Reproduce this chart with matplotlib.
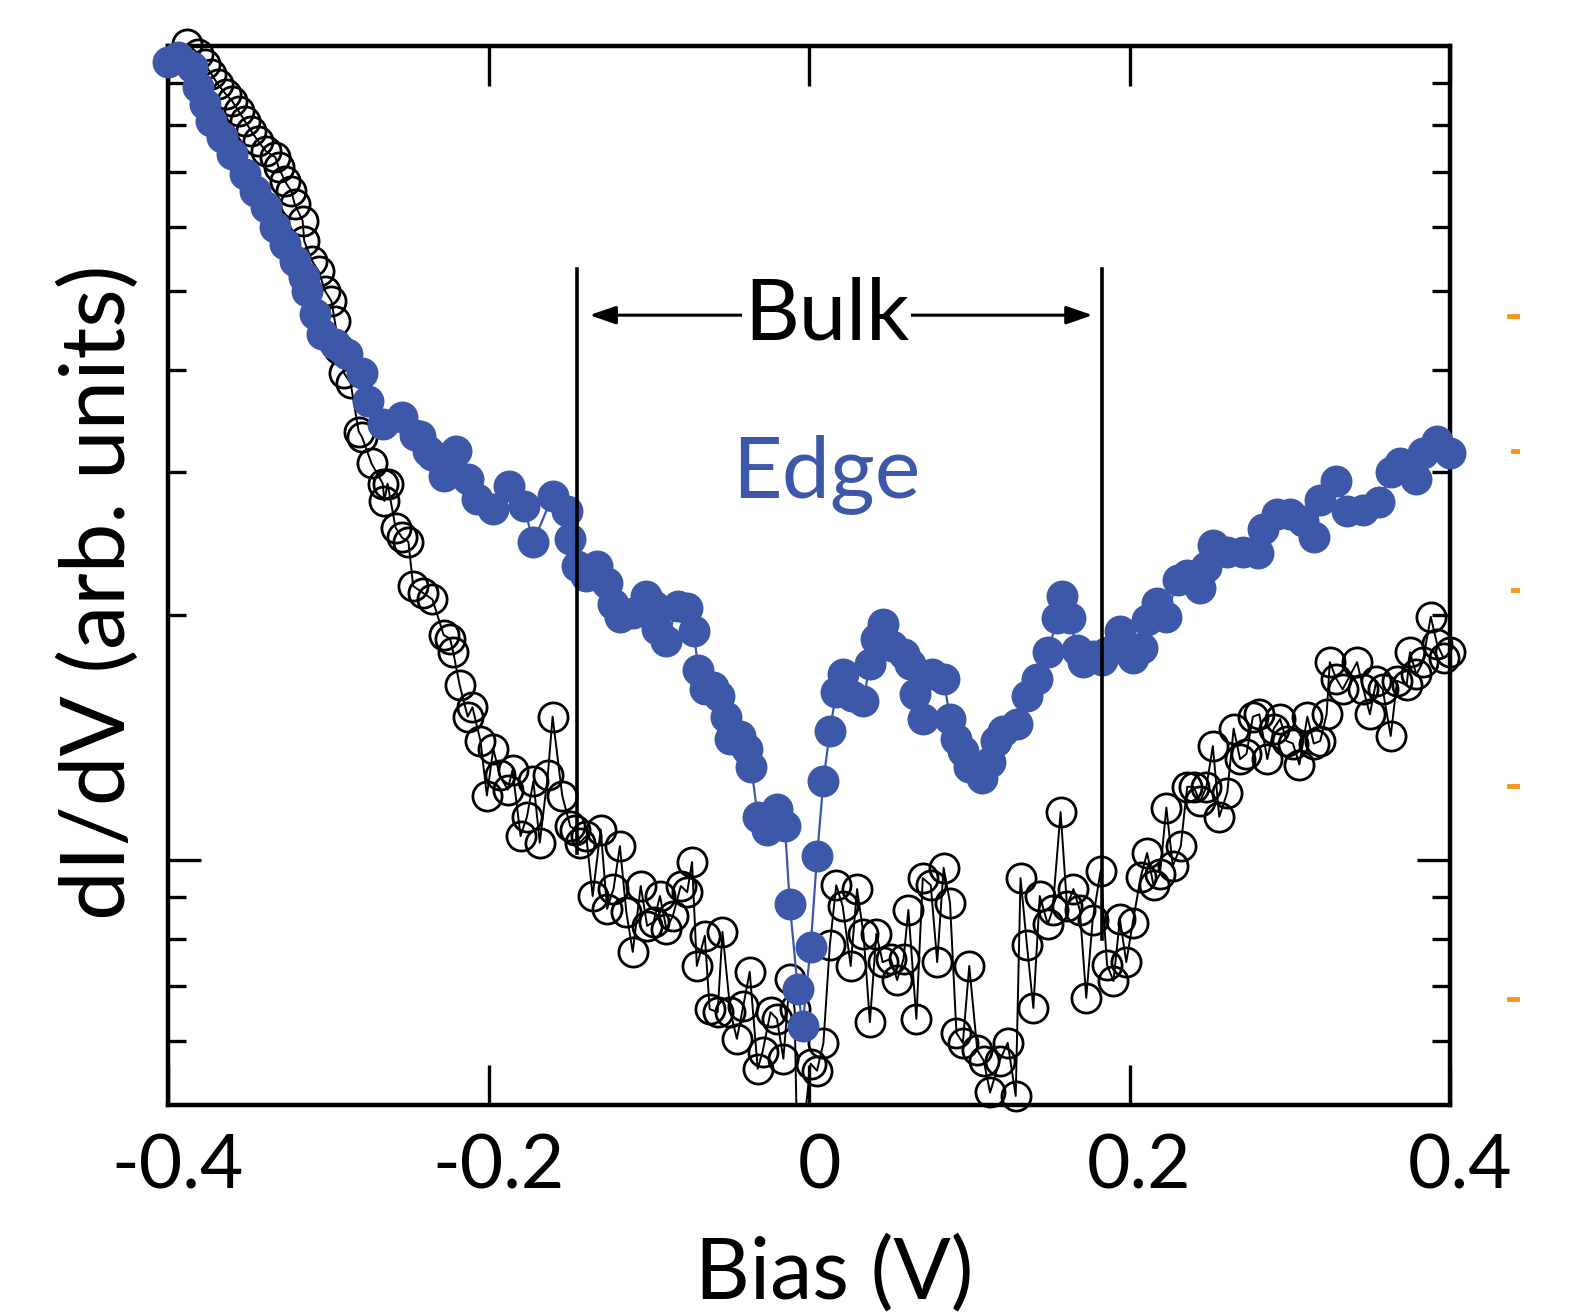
import matplotlib
matplotlib.use("Agg")
import matplotlib.pyplot as plt
import matplotlib.transforms as mtransforms
from matplotlib.ticker import FixedLocator, NullFormatter, FixedFormatter
from matplotlib.lines import Line2D
from matplotlib.patches import Rectangle

plt.rcParams['font.family'] = ['Lato', 'DejaVu Sans']

# ---------------- data ----------------
edge_bias = [-0.400, -0.394, -0.385, -0.381, -0.377, -0.373, -0.366, -0.360, -0.352, -0.346,
             -0.339, -0.333, -0.327, -0.321, -0.315, -0.313, -0.308, -0.304, -0.296, -0.288,
             -0.279, -0.275, -0.266, -0.254, -0.246, -0.243, -0.238, -0.235, -0.228, -0.220,
             -0.213, -0.207, -0.197, -0.187, -0.178, -0.172, -0.160, -0.151, -0.149, -0.145,
             -0.139, -0.132, -0.126, -0.122, -0.118, -0.110, -0.102, -0.097, -0.095, -0.089,
             -0.082, -0.076, -0.072, -0.069, -0.065, -0.060, -0.056, -0.052, -0.049, -0.043,
             -0.039, -0.036, -0.032, -0.026, -0.020, -0.015, -0.012, -0.007, -0.004, 0.001,
             0.005, 0.009, 0.013, 0.017, 0.021, 0.027, 0.034, 0.038, 0.042, 0.046,
             0.052, 0.059, 0.063, 0.066, 0.071, 0.077, 0.084, 0.088, 0.092, 0.096,
             0.100, 0.108, 0.113, 0.117, 0.121, 0.130, 0.136, 0.142, 0.149, 0.155,
             0.158, 0.163, 0.167, 0.171, 0.177, 0.183, 0.186, 0.194, 0.202, 0.208,
             0.211, 0.217, 0.223, 0.230, 0.236, 0.244, 0.248, 0.252, 0.261, 0.271,
             0.280, 0.283, 0.292, 0.300, 0.308, 0.315, 0.319, 0.329, 0.336, 0.346,
             0.356, 0.363, 0.369, 0.379, 0.383, 0.392, 0.400]
edge_didv = [9.56, 9.70, 9.42, 8.90, 8.49, 8.09, 7.73, 7.36, 6.96, 6.63,
             6.35, 5.99, 5.71, 5.44, 5.20, 5.00, 4.68, 4.43, 4.30, 4.18,
             3.96, 3.66, 3.43, 3.50, 3.33, 3.32, 3.18, 3.14, 2.96, 3.18,
             2.94, 2.78, 2.70, 2.88, 2.72, 2.46, 2.80, 2.68, 2.48, 2.30,
             2.23, 2.30, 2.19, 2.06, 1.99, 2.01, 2.11, 2.05, 1.92, 1.86,
             2.05, 2.04, 1.91, 1.71, 1.62, 1.63, 1.59, 1.50, 1.41, 1.42,
             1.37, 1.30, 1.13, 1.09, 1.155, 1.10, 0.883, 0.694, 0.625, 0.781,
             1.01, 1.25, 1.44, 1.61, 1.69, 1.59, 1.57, 1.74, 1.87, 1.95,
             1.83, 1.79, 1.74, 1.60, 1.49, 1.69, 1.67, 1.49, 1.41, 1.36,
             1.30, 1.26, 1.32, 1.40, 1.44, 1.47, 1.59, 1.67, 1.80, 1.98,
             2.11, 1.98, 1.81, 1.75, 1.78, 1.76, 1.80, 1.91, 1.77, 1.82,
             1.97, 2.07, 1.99, 2.21, 2.24, 2.16, 2.29, 2.44, 2.39, 2.39,
             2.38, 2.55, 2.66, 2.66, 2.61, 2.49, 2.77, 2.92, 2.68, 2.69,
             2.75, 3.00, 3.07, 2.94, 3.16, 3.27, 3.16]

bulk_bias = [-0.388, -0.381, -0.377, -0.373, -0.369, -0.364, -0.360, -0.356, -0.352, -0.348,
             -0.344, -0.339, -0.333, -0.331, -0.327, -0.323, -0.321, -0.316, -0.315, -0.310,
             -0.306, -0.302, -0.298, -0.296, -0.293, -0.290, -0.286, -0.281, -0.279, -0.273,
             -0.266, -0.265, -0.263, -0.258, -0.254, -0.250, -0.247, -0.241, -0.235, -0.228,
             -0.224, -0.222, -0.218, -0.213, -0.210, -0.205, -0.201, -0.197, -0.193, -0.188,
             -0.185, -0.180, -0.176, -0.172, -0.168, -0.163, -0.160, -0.154, -0.149, -0.146,
             -0.143, -0.139, -0.135, -0.130, -0.126, -0.122, -0.118, -0.114, -0.110, -0.105,
             -0.101, -0.097, -0.093, -0.089, -0.085, -0.080, -0.076, -0.073, -0.070, -0.065,
             -0.062, -0.057, -0.054, -0.049, -0.045, -0.041, -0.037, -0.032, -0.029, -0.024,
             -0.020, -0.016, -0.012, -0.009, -0.007, 0.001, 0.005, 0.009, 0.013, 0.017,
             0.021, 0.026, 0.030, 0.034, 0.038, 0.042, 0.046, 0.051, 0.055, 0.059,
             0.062, 0.067, 0.071, 0.076, 0.080, 0.084, 0.088, 0.092, 0.096, 0.100,
             0.105, 0.109, 0.113, 0.119, 0.124, 0.129, 0.132, 0.136, 0.140, 0.144,
             0.149, 0.152, 0.157, 0.161, 0.165, 0.169, 0.173, 0.177, 0.182, 0.186,
             0.190, 0.194, 0.198, 0.202, 0.207, 0.211, 0.215, 0.219, 0.223, 0.227,
             0.232, 0.236, 0.240, 0.244, 0.248, 0.252, 0.256, 0.261, 0.265, 0.269,
             0.273, 0.277, 0.281, 0.286, 0.290, 0.294, 0.298, 0.302, 0.306, 0.311,
             0.315, 0.319, 0.323, 0.325, 0.329, 0.333, 0.342, 0.346, 0.350, 0.354,
             0.358, 0.363, 0.367, 0.373, 0.375, 0.379, 0.383, 0.388, 0.392, 0.396,
             0.400]
bulk_didv = [10.06, 9.78, 9.50, 9.24, 8.98, 8.73, 8.56, 8.32, 8.09, 7.86,
             7.65, 7.43, 7.30, 7.10, 6.82, 6.63, 6.40, 6.10, 5.76, 5.44,
             5.29, 5.00, 4.86, 4.60, 4.24, 3.96, 3.85, 3.36, 3.31, 3.07,
             2.90, 2.76, 2.90, 2.56, 2.49, 2.46, 2.17, 2.13, 2.09, 1.89,
             1.87, 1.80, 1.64, 1.50, 1.54, 1.40, 1.20, 1.37, 1.27, 1.22,
             1.29, 1.07, 1.13, 1.25, 1.05, 1.27, 1.50, 1.20, 1.10, 1.09,
             1.05, 1.07, 0.903, 1.09, 0.871, 0.921, 1.04, 0.863, 0.771, 0.929,
             0.830, 0.839, 0.903, 0.823, 0.853, 0.929, 0.913, 0.994, 0.741, 0.807,
             0.656, 0.650, 0.816, 0.650, 0.603, 0.662, 0.729, 0.554, 0.581, 0.650,
             0.638, 0.570, 0.714, 0.656, 0.40, 0.562, 0.551, 0.596, 0.786, 0.931,
             0.878, 0.741, 0.921, 0.811, 0.632, 0.811, 0.749, 0.756, 0.712, 0.756,
             0.868, 0.638, 0.950, 0.931, 0.749, 0.978, 0.886, 0.613, 0.596, 0.741,
             0.584, 0.567, 0.518, 0.567, 0.596, 0.513, 0.950, 0.786, 0.658, 0.903,
             0.834, 0.868, 1.145, 0.878, 0.921, 0.868, 0.677, 0.843, 0.970, 0.743,
             0.710, 0.846, 0.749, 0.837, 0.953, 1.02, 0.931, 0.961, 1.16, 0.983,
             1.04, 1.23, 1.23, 1.18, 1.23, 1.38, 1.13, 1.21, 1.45, 1.33,
             1.35, 1.50, 1.51, 1.33, 1.45, 1.49, 1.40, 1.39, 1.31, 1.50,
             1.39, 1.40, 1.51, 1.75, 1.67, 1.62, 1.75, 1.62, 1.51, 1.66,
             1.62, 1.42, 1.66, 1.64, 1.80, 1.69, 1.75, 1.99, 1.84, 1.77,
             1.80]

x_ticks = [-0.4, -0.2, 0.0, 0.2, 0.4]
x_ticklabels = ['-0.4', '-0.2', '0', '0.2', '0.4']
y_major = [1.0]
y_minor = [0.6, 0.7, 0.8, 0.9, 2, 3, 4, 5, 6, 7, 8, 9]

bulk_edges = [-0.145, 0.183]      # bias limits of the bulk gap
bulk_line_top = 5.32
bulk_line_bottom = [1.02, 0.80]
arrow_level = 4.67

BLUE = '#3D58A8'
ORANGE = '#F7941D'

# ---------------- figure ----------------
fig = plt.figure(figsize=(15.73, 13.16), dpi=100)
ax = fig.add_axes([168/1573, 1 - 1105/1316, 1282/1573, 1059/1316])
ax.set_yscale('log')

clip = Rectangle((-0.02, -0.02), 1.04, 1.05, transform=ax.transAxes,
                 facecolor='none', edgecolor='none')
ax.add_patch(clip)

# bulk: open circles with thin line
lb, = ax.plot(bulk_bias, bulk_didv, '-', color='black', lw=1.4, zorder=2)
mb, = ax.plot(bulk_bias, bulk_didv, 'o', mfc='none', mec='black', mew=2.0,
              ms=21, zorder=2.5)
mb.set_clip_path(clip)
# edge: filled circles
le, = ax.plot(edge_bias, edge_didv, '-', color=BLUE, lw=1.6, zorder=3)
me, = ax.plot(edge_bias, edge_didv, 'o', mfc=BLUE, mec=BLUE, mew=0,
              ms=23, zorder=3.5)
me.set_clip_path(clip)

# bulk gap markers
for xb, yb in zip(bulk_edges, bulk_line_bottom):
    ax.plot([xb, xb], [yb, bulk_line_top], color='black', lw=2.6, zorder=5)

ax.annotate('', xy=(bulk_edges[0] + 0.008, arrow_level),
            xytext=(bulk_edges[1] - 0.006, arrow_level),
            arrowprops=dict(arrowstyle='<|-|>,head_length=1.6,head_width=0.55',
                            color='black', lw=2.2, shrinkA=0, shrinkB=0),
            zorder=5)
ax.text(0.011, arrow_level, 'Bulk', fontsize=61, ha='center', va='center',
        color='black', zorder=6,
        bbox=dict(facecolor='white', edgecolor='none', pad=1))
ax.text(0.011, 2.98, 'Edge', fontsize=62, ha='center', va='center',
        color=BLUE, zorder=6)

# axes styling
ax.set_xlim(-0.4, 0.4)
ax.set_ylim(0.5, 10)
ax.xaxis.set_major_locator(FixedLocator(x_ticks))
ax.xaxis.set_major_formatter(FixedFormatter(x_ticklabels))
ax.yaxis.set_major_locator(FixedLocator(y_major))
ax.yaxis.set_minor_locator(FixedLocator(y_minor))
ax.yaxis.set_major_formatter(NullFormatter())
ax.yaxis.set_minor_formatter(NullFormatter())
ax.xaxis.set_minor_locator(FixedLocator([]))

for s in ax.spines.values():
    s.set_linewidth(3.2)
ax.tick_params(axis='x', which='major', direction='in', length=29, width=2.4,
               top=True, bottom=True, labelsize=54, pad=20)
ax.tick_params(axis='y', which='major', direction='in', length=24, width=2.4,
               left=True, right=True)
ax.tick_params(axis='y', which='minor', direction='in', length=13, width=2.4,
               left=True, right=True)

shift = mtransforms.ScaledTranslation(10/100, 0, fig.dpi_scale_trans)
for lab in ax.get_xticklabels():
    lab.set_transform(lab.get_transform() + shift)

ax.set_xlabel('Bias (V)', fontsize=61)
ax.xaxis.set_label_coords(0.52, -0.160)
ax.xaxis.label.set_verticalalignment('center')
ax.set_ylabel('dI/dV (arb. units)', fontsize=64)
ax.yaxis.set_label_coords(-0.053, 0.484)
ax.yaxis.label.set_verticalalignment('center')

# small orange marks at the right edge (remnants of a neighbouring panel)
for yy, w in [(316, 8), (451, 4), (590, 4), (786, 8), (999, 8)]:
    fy = 1 - yy / 1316
    fig.add_artist(Line2D([(1517 - w) / 1573, 1517 / 1573], [fy, fy],
                          color=ORANGE, lw=3.5, transform=fig.transFigure))

fig.savefig('out.png', dpi=100, facecolor='white')
